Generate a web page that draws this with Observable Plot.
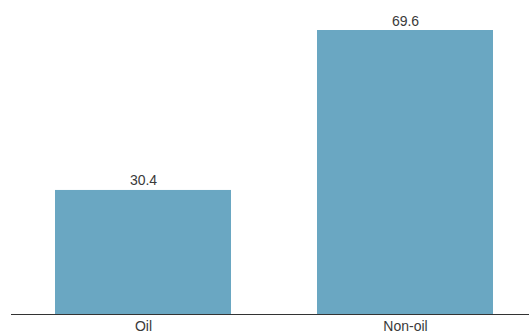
<!DOCTYPE html>
<html>
<head>
<meta charset="utf-8">
<script src="https://cdn.jsdelivr.net/npm/d3@7"></script>
<script src="https://cdn.jsdelivr.net/npm/@observablehq/plot@0.6"></script>
<style>
  html, body { margin: 0; padding: 0; background: #fff; }
  #chart svg { display: block; }
</style>
</head>
<body>
<div id="chart"></div>
<script>
const categories = ["Oil", "Non-oil"];
const values = [30.4, 69.6];
const data = categories.map((c, i) => ({category: c, value: values[i]}));

const chart = Plot.plot({
  width: 529,
  height: 335,
  marginTop: 30,
  marginBottom: 21,
  marginLeft: 11,
  marginRight: 0,
  style: {fontFamily: "'Liberation Sans', Arial, sans-serif", fontSize: "14px", color: "#3a3a3a", background: "#fff"},
  x: {domain: categories, paddingInner: 0.33, paddingOuter: 0.152, align: 0.553, label: null, tickSize: 0, tickPadding: 7},
  y: {domain: [0, 69.6], axis: null},
  marks: [
    Plot.barY(data, {x: "category", y: "value", fill: "#6aa7c2"}),
    Plot.text(data, {x: "category", y: "value", text: d => d.value.toFixed(1), lineAnchor: "bottom", dy: -5, fill: "#3a3a3a", fontSize: 14}),
    Plot.ruleY([0], {stroke: "#333", strokeWidth: 1})
  ]
});
document.getElementById("chart").appendChild(chart);
</script>
</body>
</html>
